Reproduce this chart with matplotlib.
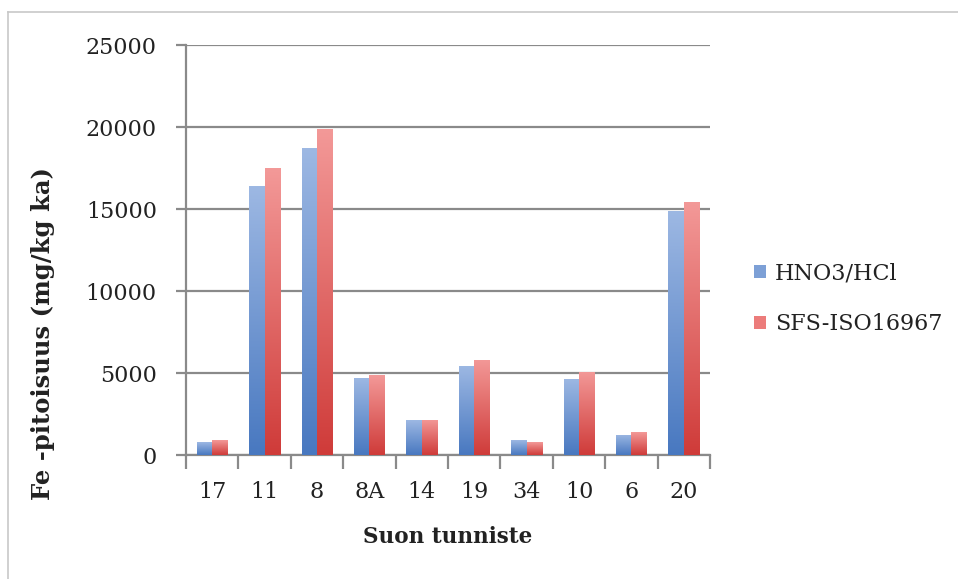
import numpy as np
import matplotlib.pyplot as plt
from matplotlib.colors import LinearSegmentedColormap
from matplotlib.patches import Patch
from matplotlib.lines import Line2D

categories = ["17", "11", "8", "8A", "14", "19", "34", "10", "6", "20"]
hno3_hcl = [780, 16400, 18700, 4700, 2130, 5450, 910, 4650, 1240, 14850]
sfs_iso = [900, 17500, 19850, 4860, 2160, 5800, 770, 5070, 1380, 15400]
series_names = ["HNO3/HCl", "SFS-ISO16967"]

plt.rcParams['font.family'] = ['DejaVu Serif']

fig = plt.figure(figsize=(9.58, 5.79), dpi=100)
ax = fig.add_axes([186/958, 1-455/579, 524/958, 410/579])

# outer frame of the chart area
fig.add_artist(Line2D([8/958, 8/958], [0, 1-12/579], color="#c8c8c8", lw=1.2, transform=fig.transFigure))
fig.add_artist(Line2D([8/958, 1], [1-12/579, 1-12/579], color="#c8c8c8", lw=1.2, transform=fig.transFigure))

x = np.arange(len(categories))
w = 0.295

blue_cmap = LinearSegmentedColormap.from_list("b", ["#4878c0", "#9db8e3"])
red_cmap = LinearSegmentedColormap.from_list("r", ["#cf3b39", "#f39998"])
grad = np.linspace(0, 1, 256).reshape(-1, 1)

def gradient_bars(xs, vals, cmap):
    bars = ax.bar(xs, vals, w, color="none", edgecolor="none", zorder=3)
    for b in bars:
        x0 = b.get_x()
        im = ax.imshow(grad, cmap=cmap, origin="lower", aspect="auto",
                       extent=[x0, x0 + b.get_width(), 0, b.get_height()],
                       zorder=3)
        im.set_clip_path(b)
    return bars

gradient_bars(x - w/2, hno3_hcl, blue_cmap)
gradient_bars(x + w/2, sfs_iso, red_cmap)

ax.set_xlim(-0.5, len(categories) - 0.5)
ax.set_ylim(0, 25000)
ax.set_yticks(np.arange(0, 25001, 5000))
ax.yaxis.grid(True, color="#8a8a8a", lw=1.6, zorder=1)
ax.set_axisbelow(True)

ax.set_xticks(np.arange(-0.5, len(categories)), labels=[])
ax.set_xticks(x, labels=categories, minor=True)
ax.tick_params(axis="x", which="major", length=10, width=1.6, color="#8a8a8a", direction="out")
ax.tick_params(axis="x", which="minor", length=0, pad=19, labelsize=16, labelcolor="#222222")
ax.tick_params(axis="y", length=7, width=1.6, color="#8a8a8a", pad=14, labelsize=16, labelcolor="#222222")

for s in ["top", "right"]:
    ax.spines[s].set_visible(False)
for s in ["left", "bottom"]:
    ax.spines[s].set_color("#8a8a8a")
    ax.spines[s].set_linewidth(1.6)

ax.set_xlabel("Suon tunniste", fontsize=15.5, fontweight="bold", labelpad=16, color="#222222")
# y label sits lower than the axes centre in the original
fig.text(43/958, 1-334/579, "Fe -pitoisuus (mg/kg ka)", rotation=90, ha="center", va="center",
         fontsize=17.5, fontweight="bold", color="#222222")

handles = [Patch(facecolor="#7da0d6"), Patch(facecolor="#ec7c7b")]
fig.legend(handles, series_names, loc="center left", bbox_to_anchor=(734/958, 1-299/579),
           frameon=False, fontsize=16, handlelength=0.55, handleheight=0.55,
           handletextpad=0.4, labelspacing=1.3, labelcolor="#222222")

fig.savefig("out.png", dpi=100)
